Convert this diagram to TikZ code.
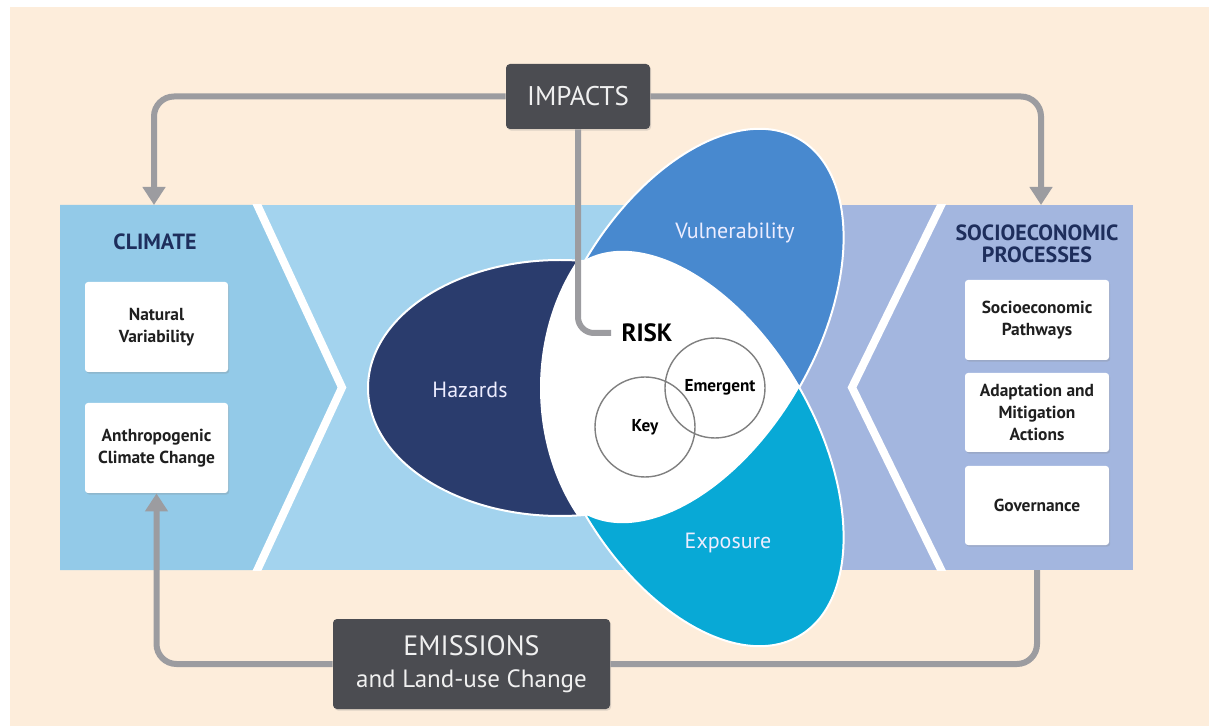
\documentclass[tikz,border=0pt]{standalone}
\usepackage{fontspec}
\setmainfont{PT Sans}
\usetikzlibrary{arrows.meta,shadows}
\definecolor{cream}{HTML}{FDEDDB}
\definecolor{bandblue}{HTML}{A3D3EE}
\definecolor{climblue}{HTML}{93CAE8}
\definecolor{periw}{HTML}{A3B6DF}
\definecolor{haznavy}{HTML}{2A3C6D}
\definecolor{vulblue}{HTML}{4889CF}
\definecolor{expcyan}{HTML}{08A9D6}
\definecolor{boxgray}{HTML}{4B4C51}
\definecolor{linegray}{HTML}{9C9CA0}
\definecolor{titlenavy}{HTML}{1E2E5C}
\begin{document}
\begin{tikzpicture}[x=0.5pt,y=-0.5pt,line join=miter,
	conn/.style={linegray,line width=3pt,rounded corners=10pt},
	arrowend/.style={-{Triangle[width=11pt,length=9pt]}},
	whitebox/.style={fill=white,rounded corners=1.5pt,minimum width=71.5pt,align=center,text=black!88,
		font=\fontsize{8.7}{11}\selectfont\bfseries,drop shadow={shadow xshift=0.6pt,shadow yshift=-0.8pt,opacity=0.25}},
	darkbox/.style={fill=boxgray,rounded corners=2pt,text=white!94!black,align=center,
		font=\fontsize{13.5}{16}\selectfont,drop shadow={shadow xshift=0.6pt,shadow yshift=-0.8pt,opacity=0.25}},
	title/.style={text=titlenavy,align=center,font=\fontsize{11}{11}\selectfont\bfseries},
	blobtext/.style={text=white!93!blue,font=\fontsize{11}{13}\selectfont},
	ring/.style={circle,draw=black!50,line width=0.7pt,minimum size=50pt,inner sep=0pt,font=\fontsize{8.6}{10}\selectfont\bfseries}]
	
	\useasboundingbox (0,0) rectangle (1209,726);
	\fill[white] (0,0) rectangle (1209,726);
	\fill[cream] (10,7) rectangle (1209,726);
	
	% band with the two panels
	\fill[bandblue] (60,205) rectangle (780,570);
	\fill[periw] (780,205) rectangle (1133,570);
	\fill[climblue] (60,205) -- (257,205) -- (342,387.5) -- (257,570) -- (60,570) -- cycle;
	\begin{scope}
		\clip (60,205) rectangle (1133,570);
		\draw[white,line width=4pt] (248,185) -- (342,387.5) -- (248,590);
		\draw[white,line width=4pt] (951,185) -- (852,387.5) -- (951,590);
	\end{scope}
	
	% hazards, vulnerability, exposure and risk
	\coordinate (vu) at (691,326);
	\coordinate (ex) at (691,449);
	\coordinate (hz) at (560,388);
	\filldraw[fill=vulblue,draw=white,line width=1pt,shift={(vu)},rotate=60] (0,0) ellipse (216 and 124.5);
	\filldraw[fill=expcyan,draw=white,line width=1pt,shift={(ex)},rotate=-60] (0,0) ellipse (216 and 124.5);
	\filldraw[fill=haznavy,draw=white,line width=1pt] (hz) ellipse (192 and 128);
	\begin{scope}
		\clip[shift={(vu)},rotate=60] (0,0) ellipse (216 and 124.5);
		\fill[white,shift={(ex)},rotate=-60] (0,0) ellipse (216 and 124.5);
	\end{scope}
	\begin{scope}
		\clip (hz) ellipse (192 and 128);
		\fill[white] (700,388) ellipse (160 and 199);
	\end{scope}
	
	\node[ring] (key) at (645,427) {Key};
	\node[ring] (emergent) at (715,388) {\hspace*{5pt}\raisebox{3pt}{Emergent}};
	\node[blobtext] (hazards) at (470,390) {Hazards};
	\node[blobtext] (vulner) at (735,233) {Vulnerability};
	\node[blobtext] (exposure) at (728,543) {Exposure};
	\node[font=\fontsize{12.5}{14}\selectfont\bfseries,inner sep=5pt] (risk) at (647,333) {RISK};
	
	% climate side
	\node[title] (climate) at (155,242) {CLIMATE};
	\node[whitebox,minimum height=45pt] (natvar) at (156.5,327) {Natural\\Variability};
	\node[whitebox,minimum height=45pt] (anthro) at (156.5,448) {Anthropogenic\\Climate Change};
	
	% socioeconomic side
	\node[title] (socio) at (1037,244) {SOCIOECONOMIC\\PROCESSES};
	\node[whitebox,minimum width=72pt,minimum height=40pt] (pathways) at (1037,320) {Socioeconomic\\Pathways};
	\node[whitebox,minimum width=72pt,minimum height=39.5pt] (adapt) at (1037,412.5) {Adaptation and\\Mitigation\\Actions};
	\node[whitebox,minimum width=72pt,minimum height=39.5pt] (govern) at (1037,505.5) {Governance};
	
	\coordinate (climin) at (154,205);
	\coordinate (sein) at (1041,205);
	\coordinate (seout) at (1037,570);
	
	% loop of impacts and emissions
	\node[darkbox,minimum width=72pt,minimum height=32.5pt] (impacts) at (578,96.5) {IMPACTS};
	\node[darkbox,minimum width=138.5pt,minimum height=45pt] (emissions) at (471.5,664)
		{\fontsize{14}{16}\selectfont EMISSIONS\\\fontsize{12.5}{16}\selectfont and Land-use Change};
	\draw[conn,arrowend] (impacts.west) -| (climin);
	\draw[conn,arrowend] (impacts.east) -| (sein);
	\draw[conn,rounded corners=8pt] (impacts.south) |- (risk.west);
	\draw[conn] (seout) |- (emissions.east);
	\draw[conn,arrowend] (emissions.west) -| (anthro.south);
	
\end{tikzpicture}
\end{document}
